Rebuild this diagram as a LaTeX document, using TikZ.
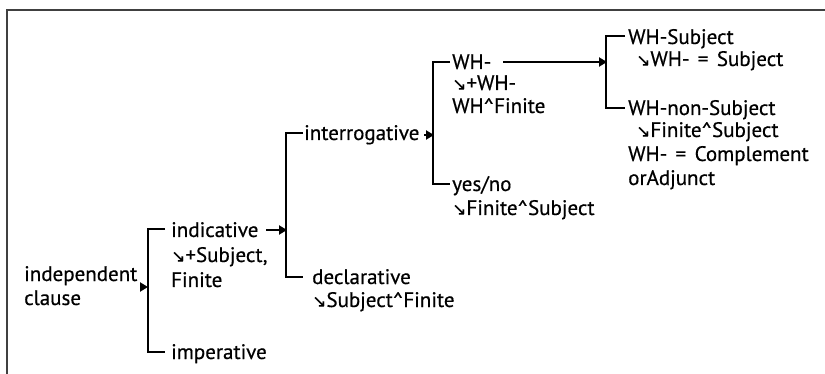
\documentclass[tikz,border=0pt]{standalone}
\usepackage{fontspec}
\setmainfont{PT Sans}
\newfontfamily\lblfont[UprightFeatures={FakeBold=0.5}]{PT Sans}
\newfontfamily\symf[UprightFeatures={FakeBold=0.5}]{DejaVu Sans}
\usetikzlibrary{arrows.meta}
\newcommand\sarr{{\symf\fontsize{17}{17}\selectfont ↘}}
\tikzset{
  lbl/.style={anchor=base west, inner sep=0pt, font=\lblfont\fontsize{21}{23}\selectfont, text=black},
  bar/.style={line width=2.8pt, line cap=butt},
  tip/.style={line width=2.8pt, -{Triangle[length=8pt,width=9pt]}},
  frame/.style={line width=1.5pt, draw=black!75}
}
\begin{document}
\begin{tikzpicture}[x=1pt,y=-1pt]
\useasboundingbox (0,0) rectangle (825,374);
\draw[frame] (7,374) -- (7,10) -- (825,10);
% independent clause
\node[lbl] (ic1) at (24,281) {independent};
\node[lbl] (ic2) at (24,305) {clause};
\coordinate (b1t) at (148,229);
\coordinate (b1b) at (148,352);
\coordinate (b1m) at (148,287);
\coordinate (a1s) at (140,287);
\draw[tip] (a1s) -- (b1m);
\draw[bar] (165,229) -- (b1t) -- (b1b) -- (165,352);
\node[lbl] (ind1) at (171,237) {indicative};
\node[lbl] (ind2) at (171,262) {\sarr+Subject,};
\node[lbl] (ind3) at (171,287) {Finite};
\node[lbl] (imp) at (171,359) {imperative};
% second level
\coordinate (a2s) at (266,230);
\coordinate (b2m) at (287,230);
\draw[tip] (a2s) -- (b2m);
\draw[bar] (303,133) -- (286,133) -- (286,277) -- (303,277);
\node[lbl] (int) at (304,140) {interrogative};
\node[lbl] (dec1) at (312,284) {declarative};
\node[lbl] (dec2) at (312,307) {\sarr Subject\^{}Finite};
% third level
\coordinate (a3s) at (424,135);
\coordinate (b3m) at (434,135);
\draw[tip] (a3s) -- (b3m);
\draw[bar] (450,62) -- (433,62) -- (433,184) -- (450,184);
\node[lbl] (wh1) at (452,69) {WH-};
\node[lbl] (wh2) at (452,90) {\sarr+WH-};
\node[lbl] (wh3) at (452,113) {WH\^{}Finite};
\node[lbl] (yn1) at (452,191) {yes/no};
\node[lbl] (yn2) at (452,215) {\sarr Finite\^{}Subject};
% fourth level
\coordinate (a4s) at (503,62);
\coordinate (b4m) at (607,62);
\draw[tip] (a4s) -- (b4m);
\draw[bar] (625,36) -- (606,36) -- (606,108) -- (625,108);
\node[lbl] (ws1) at (628,44) {WH-Subject};
\node[lbl] (ws2) at (636,66) {\sarr WH-\hspace{0.4em}=\hspace{0.4em}Subject};
\node[lbl] (wn1) at (628,115) {WH-non-Subject};
\node[lbl] (wn2) at (636,137) {\sarr Finite\^{}Subject};
\node[lbl] (wn3) at (628,161) {WH-\hspace{0.4em}=\hspace{0.4em}Complement};
\node[lbl] (wn4) at (628,185) {orAdjunct};
\end{tikzpicture}
\end{document}
